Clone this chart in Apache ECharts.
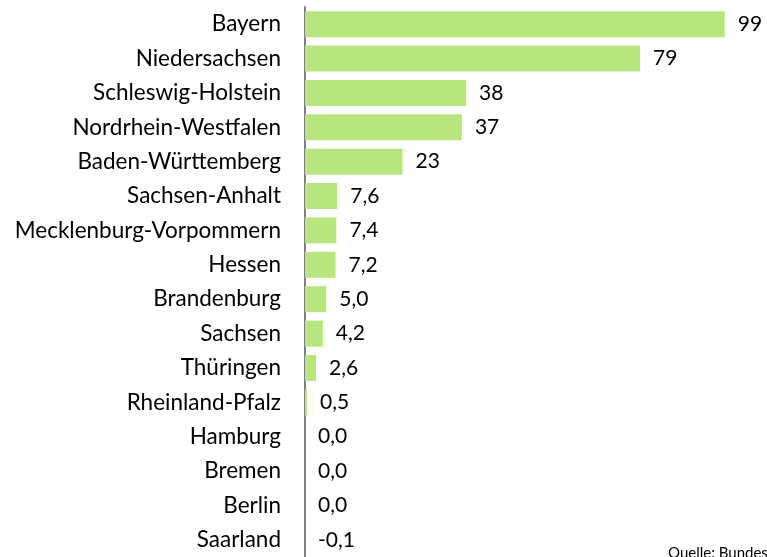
<!DOCTYPE html>
<html>
<head>
<meta charset="utf-8">
<script src="https://cdn.jsdelivr.net/npm/echarts@6/dist/echarts.min.js"></script>
<style>html,body{margin:0;padding:0;background:#fff}#c{width:767px;height:557px}</style>
</head>
<body>
<div id="c"></div>
<script>
var categories = ['Bayern','Niedersachsen','Schleswig-Holstein','Nordrhein-Westfalen','Baden-Württemberg','Sachsen-Anhalt','Mecklenburg-Vorpommern','Hessen','Brandenburg','Sachsen','Thüringen','Rheinland-Pfalz','Hamburg','Bremen','Berlin','Saarland'];
var values = [99, 79, 38, 37, 23, 7.6, 7.4, 7.2, 5.0, 4.2, 2.6, 0.5, 0.0, 0.0, 0.0, -0.1];
var sourceText = 'Quelle: Bundesnetzagentur';

var FONT = 'Lato';
var chart = echarts.init(document.getElementById('c'), null, {renderer: 'canvas'});
function fmt(v) {
  return Math.abs(v) >= 10 ? String(Math.round(v)) : v.toFixed(1).replace('.', ',');
}
chart.setOption({
  animation: false,
  grid: {left: 305, top: 7, width: 424, height: 551.5, containLabel: false},
  xAxis: {type: 'value', min: 0, max: 100, show: false},
  yAxis: {
    type: 'category', data: categories, inverse: true,
    axisLine: {show: true, lineStyle: {color: '#808080', width: 2}},
    axisTick: {show: false},
    axisLabel: {color: '#000', fontFamily: FONT, fontSize: 22.5, margin: 24}
  },
  series: [{
    type: 'bar', data: values, barWidth: 26,
    itemStyle: {color: '#b8e67e'},
    label: {show: true, position: 'right', distance: 13, color: '#000', fontFamily: FONT, fontSize: 21,
      formatter: function (p) { return fmt(p.value); }}
  }],
  graphic: [{type: 'text', left: 668, top: 546, style: {text: sourceText, fill: '#000', font: '15px ' + FONT}}]
});
</script>
</body>
</html>
